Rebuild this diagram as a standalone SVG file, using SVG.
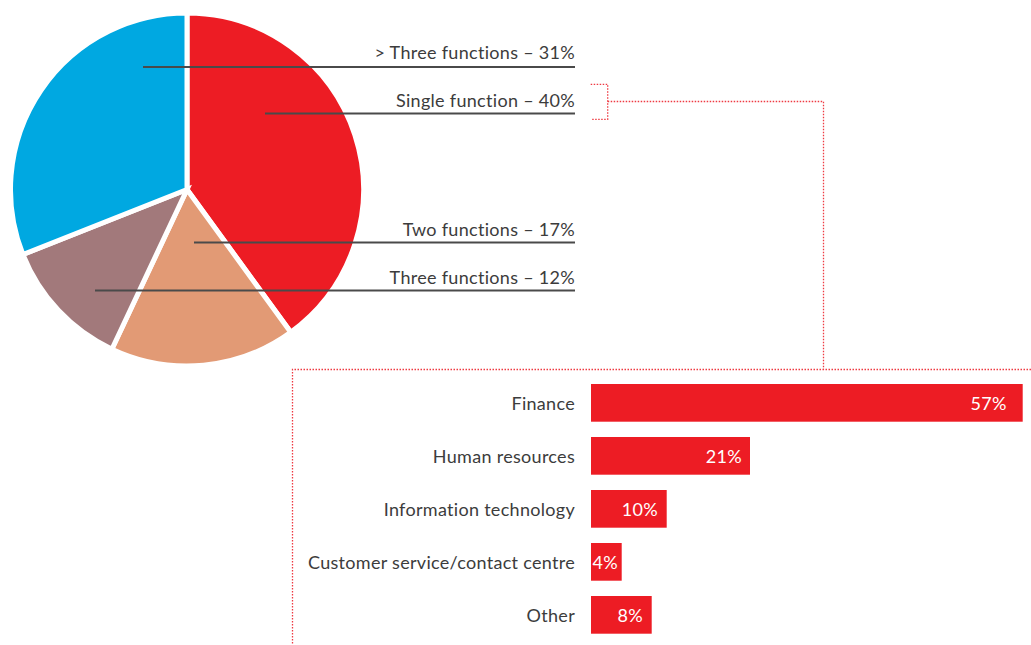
<svg xmlns="http://www.w3.org/2000/svg" width="1031" height="645" viewBox="0 0 1031 645">
<style>
  .t{font-family:"Lato","Liberation Sans",sans-serif;font-size:18px;font-weight:400;letter-spacing:0.3px;fill:#3c3c3c;text-anchor:end}
  .v{font-family:"Lato","Liberation Sans",sans-serif;font-size:18px;font-weight:400;letter-spacing:0.3px;fill:#ffffff;text-anchor:end}
  .slice{stroke:#ffffff;stroke-width:5;stroke-linejoin:miter}
  .lead{stroke:#4a4a4a;stroke-width:1.8;fill:none}
  .dot{stroke:#ee3a42;stroke-width:1.3;stroke-dasharray:1.5 1.5;fill:none}
  .bar{fill:#ed1c24}
</style>
<rect width="1031" height="645" fill="#ffffff"/>
<g id="pie">
  <path id="slice-single" class="slice" fill="#ed1c24" d="M187 189.5 L187 13 A176.5 176.5 0 0 1 290.75 332.29 Z"/>
  <path id="slice-two" class="slice" fill="#e29a75" d="M187 189.5 L290.75 332.29 A176.5 176.5 0 0 1 111.85 349.2 Z"/>
  <path id="slice-three" class="slice" fill="#a2797b" d="M187 189.5 L111.85 349.2 A176.5 176.5 0 0 1 22.89 254.47 Z"/>
  <path id="slice-more" class="slice" fill="#00a8e1" d="M187 189.5 L22.89 254.47 A176.5 176.5 0 0 1 187 13 Z"/>
</g>
<g id="connectors">
  <line class="lead" x1="143" y1="67" x2="575" y2="67"/>
  <line class="lead" x1="265" y1="113.5" x2="575" y2="113.5"/>
  <line class="lead" x1="194" y1="242.5" x2="575" y2="242.5"/>
  <line class="lead" x1="95" y1="290.5" x2="575" y2="290.5"/>
  <path class="dot" d="M590.7 84.3 H607.7 V119.3 H590.7"/>
  <path class="dot" d="M607.7 101.5 H823.5 V369.5"/>
  <path class="dot" d="M1031 369.5 H292.5 V645"/>
</g>
<g id="pie-labels">
  <text id="label-more" class="t" x="575" y="58.5">&gt; Three functions – 31%</text>
  <text id="label-single" class="t" x="575" y="107">Single function – 40%</text>
  <text id="label-two" class="t" x="575" y="236">Two functions – 17%</text>
  <text id="label-three" class="t" x="575" y="284">Three functions – 12%</text>
</g>
<g id="bar-finance">
  <rect class="bar" x="591" y="384" width="431.7" height="37.7"/>
  <text class="t" x="575" y="410">Finance</text>
  <text class="v" x="1006.7" y="410">57%</text>
</g>
<g id="bar-hr">
  <rect class="bar" x="591" y="437" width="159" height="37.7"/>
  <text class="t" x="575" y="463">Human resources</text>
  <text class="v" x="742" y="463">21%</text>
</g>
<g id="bar-it">
  <rect class="bar" x="591" y="490" width="75.7" height="37.7"/>
  <text class="t" x="575" y="516">Information technology</text>
  <text class="v" x="658" y="516">10%</text>
</g>
<g id="bar-cs">
  <rect class="bar" x="591" y="543" width="30.7" height="37.7"/>
  <text class="t" x="575" y="569">Customer service/contact centre</text>
  <text class="v" x="618" y="569">4%</text>
</g>
<g id="bar-other">
  <rect class="bar" x="591" y="596" width="60.7" height="37.7"/>
  <text class="t" x="575" y="622">Other</text>
  <text class="v" x="643" y="622">8%</text>
</g>
</svg>
